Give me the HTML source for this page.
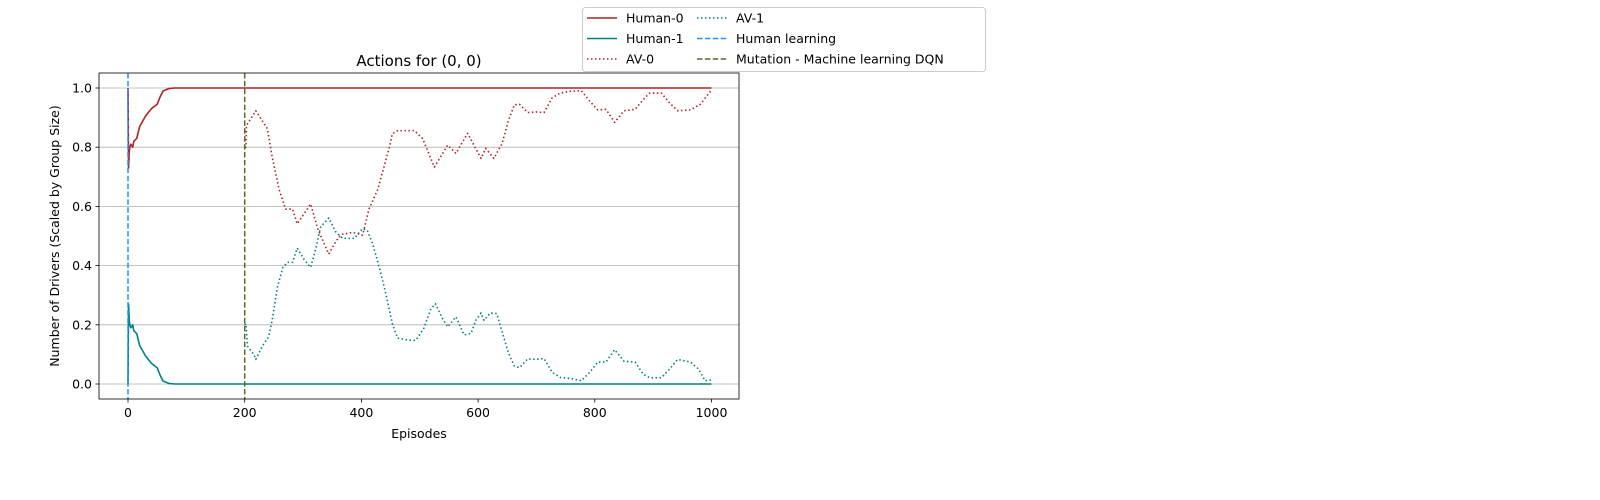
<!DOCTYPE html>
<html><head><meta charset="utf-8"><style>
body{margin:0;background:#fff;}
svg{display:block;font-family:"DejaVu Sans","Liberation Sans",sans-serif;}
</style></head><body>
<svg id="chart" width="1600" height="500" viewBox="0 0 1600 500"></svg>
<script>
const xTicks=[0,200,400,600,800,1000];
const yTicks=[0.0,0.2,0.4,0.6,0.8,1.0];
const yTickLabels=["0.0","0.2","0.4","0.6","0.8","1.0"];
const human0Ep=[0,1,2,3,5,8,10,15,20,30,40,50,55,60,70,80,1000];
const human0Val=[1.0,0.73,0.78,0.80,0.81,0.80,0.82,0.83,0.87,0.905,0.93,0.945,0.97,0.99,0.998,1.0,1.0];
const human1Ep=[0,1,2,3,5,8,10,15,20,30,40,50,55,60,70,80,1000];
const human1Val=[0.0,0.27,0.22,0.20,0.19,0.20,0.18,0.17,0.13,0.095,0.07,0.055,0.03,0.01,0.002,0.0,0.0];
const av0Ep=[200,202,203,219,239,247,259,270,282,290,313,325,344,356,365,385,402,413,428,439,448,453,462,491,505,525,548,562,582,605,613,627,641,652,662,671,685,699,713,727,741,758,777,791,805,819,834,850,869,883,894,914,928,942,964,981,1000];
const av0Val=[0.80,0.80,0.873,0.923,0.862,0.768,0.657,0.591,0.591,0.541,0.608,0.525,0.439,0.481,0.505,0.512,0.503,0.591,0.657,0.735,0.80,0.845,0.856,0.856,0.829,0.733,0.807,0.779,0.847,0.762,0.796,0.762,0.812,0.890,0.943,0.945,0.917,0.919,0.917,0.967,0.983,0.989,0.991,0.956,0.926,0.928,0.884,0.923,0.928,0.961,0.983,0.983,0.950,0.923,0.926,0.945,0.994];
const av1Ep=[200,202,205,216,219,230,241,247,256,265,273,282,290,302,313,322,330,344,356,368,388,402,410,419,431,442,453,462,479,493,507,519,527,539,548,562,576,588,596,605,610,621,632,641,652,662,671,685,699,713,727,741,758,777,791,805,819,834,850,869,883,894,914,928,942,964,978,989,1000];
const av1Val=[0.20,0.204,0.127,0.099,0.083,0.127,0.160,0.215,0.326,0.392,0.411,0.411,0.459,0.420,0.394,0.459,0.530,0.561,0.514,0.492,0.492,0.525,0.519,0.475,0.392,0.304,0.204,0.155,0.149,0.147,0.188,0.254,0.271,0.221,0.193,0.227,0.166,0.171,0.215,0.240,0.215,0.240,0.238,0.177,0.105,0.061,0.055,0.085,0.083,0.086,0.039,0.022,0.019,0.011,0.039,0.074,0.074,0.116,0.077,0.074,0.033,0.021,0.021,0.050,0.083,0.074,0.050,0.011,0.014];
const vlines=[0,200];

const L=99,R=739,T=73,B=399;
const X0=128,X1=711.5;
function sx(v){return X0+(X1-X0)*v/1000;}
function sy(v){return 384-296*v;}
const svg=document.getElementById('chart');
const NS='http://www.w3.org/2000/svg';
function mk(tag,attrs,parent){const e=document.createElementNS(NS,tag);for(const k in attrs)e.setAttribute(k,attrs[k]);(parent||svg).appendChild(e);return e;}

// grid
yTicks.forEach((t,i)=>{
  const g=mk('line',{x1:L,x2:R,y1:sy(t),y2:sy(t),stroke:'#b0b0b0','stroke-width':0.8});
  
  
  const tk=mk('line',{x1:L-3.5,x2:L,y1:sy(t),y2:sy(t),stroke:'#000','stroke-width':0.8});
  
  
  const tx=mk('text',{x:L-7,y:sy(t)+4.5,'text-anchor':'end','font-size':12.5});
  tx.textContent=yTickLabels[i];
  
  
});
xTicks.forEach(t=>{
  const tk=mk('line',{x1:sx(t),x2:sx(t),y1:B,y2:B+3.5,stroke:'#000','stroke-width':0.8});
  
  
  const tx=mk('text',{x:sx(t),y:B+18,'text-anchor':'middle','font-size':12.5});
  tx.textContent=String(t);
  
  
});
function series(ep,val,color,dash,name,w){
  const d=ep.map((e,i)=>(i?'L':'M')+sx(e).toFixed(2)+' '+sy(val[i]).toFixed(2)).join(' ');
  const p=mk('path',{d:d,fill:'none',stroke:color,'stroke-width':w||1.6,'stroke-dasharray':dash||'none','stroke-linejoin':'round'});
  
  
}
series(av0Ep,av0Val,'#b22222','1.5 2.5','av-0-line');
series(av1Ep,av1Val,'#008080','1.5 2.5','av-1-line');
series(human0Ep,human0Val,'#b22222',null,'human-0-line');
series(human1Ep,human1Val,'#008080',null,'human-1-line');
const vcol=['#1e90ff','#556b2f'];
vlines.forEach((v,i)=>{
  const l=mk('line',{x1:sx(v),x2:sx(v),y1:T,y2:B,stroke:vcol[i],'stroke-width':1.5,'stroke-dasharray':'5.5 2.4'});
  
  
});
const fr=mk('rect',{x:L,y:T,width:R-L,height:B-T,fill:'none',stroke:'#000','stroke-width':0.8});


const title=mk('text',{x:419,y:66,'text-anchor':'middle','font-size':15});
title.textContent='Actions for (0, 0)';


const xl=mk('text',{x:419,y:438,'text-anchor':'middle','font-size':12.5});
xl.textContent='Episodes';


const yl=mk('text',{x:0,y:0,'text-anchor':'middle','font-size':12.5,transform:'translate(59,236) rotate(-90)'});
yl.textContent='Number of Drivers (Scaled by Group Size)';


// legend
const lg=mk('g',{});


mk('rect',{x:582.5,y:7.5,width:403,height:64,rx:3,fill:'#fff',stroke:'#ccc','stroke-width':1},lg);
const entries=[['Human-0','#b22222','none',587,18],['Human-1','#008080','none',587,38.5],['AV-0','#b22222','1.5 2.5',587,59],
['AV-1','#008080','1.5 2.5',697,18],['Human learning','#1e90ff','5.5 2.4',697,38.5],['Mutation - Machine learning DQN','#556b2f','5.5 2.4',697,59]];
entries.forEach(e=>{
  const g=mk('g',{},lg);
  
  
  mk('line',{x1:e[3],x2:e[3]+30,y1:e[4],y2:e[4],stroke:e[1],'stroke-width':1.6,'stroke-dasharray':e[2]},g);
  const t=mk('text',{x:e[3]+39,y:e[4]+4.5,'font-size':12.5},g);
  t.textContent=e[0];
});
</script>
</body></html>
